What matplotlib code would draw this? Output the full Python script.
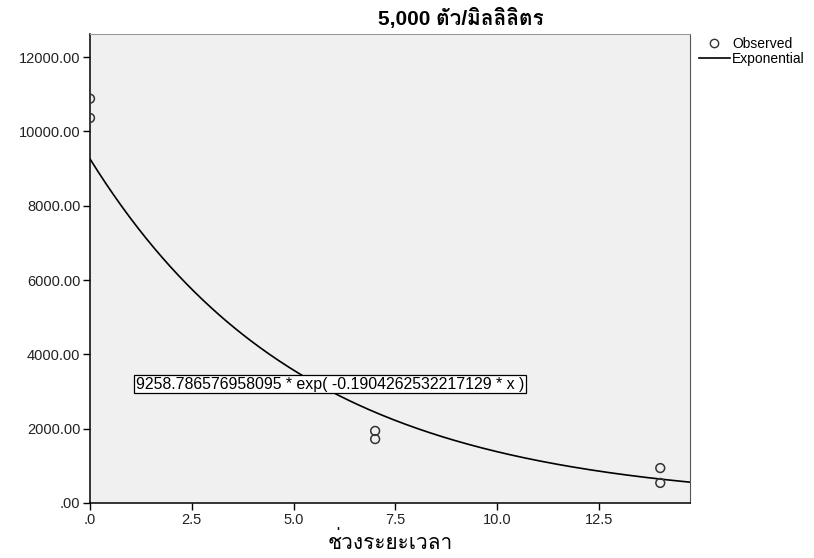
import numpy as np
import matplotlib
matplotlib.use("Agg")
import matplotlib.pyplot as plt
from matplotlib import font_manager
from matplotlib.lines import Line2D
from matplotlib.ft2font import FT2Font

# observed points (time, count)
obs_x = [0, 0, 7, 7, 14, 14]
obs_y = [10880, 10360, 1940, 1720, 940, 540]

# fitted exponential
coef_a = 9258.786576958095
coef_b = -0.1904262532217129

title = "5,000 ตัว/มิลลิลิตร"
xlabel = "ช่วงระยะเวลา"
xticks = [0, 2.5, 5.0, 7.5, 10.0, 12.5]
xtick_labels = [".0", "2.5", "5.0", "7.5", "10.0", "12.5"]
yticks = [0, 2000, 4000, 6000, 8000, 10000, 12000]
ytick_labels = [".00", "2000.00", "4000.00", "6000.00", "8000.00", "10000.00", "12000.00"]


def thai_family():
    for f in font_manager.fontManager.ttflist:
        try:
            if 0x0E15 in FT2Font(f.fname).get_charmap():
                return f.name
        except Exception:
            pass
    return None


thai = thai_family()
fams = ["Liberation Sans", "DejaVu Sans"]
if thai:
    fams = ["Liberation Sans", thai, "DejaVu Sans"]
plt.rcParams["font.family"] = fams

fig = plt.figure(figsize=(8.14, 5.58), dpi=100)
ax = fig.add_axes([90 / 814, 1 - 503 / 558, 600 / 814, 469 / 558])
ax.set_facecolor("#f0f0f0")

xs = np.linspace(0, 14.75, 300)
ax.plot(xs, coef_a * np.exp(coef_b * xs), color="black", lw=1.2)
ax.scatter(obs_x, obs_y, s=40, facecolors="none", edgecolors="#333333", lw=1.1, zorder=3)

ax.set_xlim(0, 14.73)
ax.set_ylim(0, 12620)
ax.set_xticks(xticks)
ax.set_xticklabels(xtick_labels)
ax.set_yticks(yticks)
ax.set_yticklabels(ytick_labels)
ax.tick_params(direction="out", length=5, width=1, labelsize=10.5, colors="black",
               labelcolor="#222222", pad=2)

for s in ["left", "bottom"]:
    ax.spines[s].set_color("black")
    ax.spines[s].set_linewidth(1.1)
ax.spines["top"].set_color("#999999")
ax.spines["right"].set_color("#555555")

ax.text(1.13, 3200, "%s * exp( %s * x )" % (repr(coef_a), repr(coef_b)),
        fontsize=11.4, va="center", ha="left",
        bbox=dict(boxstyle="square,pad=0.1", fc="white", ec="black", lw=0.9))

ax.set_xlabel(xlabel, fontsize=15, labelpad=3)
fig.text(461 / 814, 1 - 18 / 558, title, fontsize=15, fontweight="bold",
         ha="center", va="center")

handles = [Line2D([], [], marker="o", ls="none", mfc="none", mec="#333333", ms=6),
           Line2D([], [], color="black", lw=1.2)]
fig.legend(handles, ["Observed", "Exponential"], loc="upper left",
           bbox_to_anchor=(692 / 814, 1 - 30 / 558), frameon=False, fontsize=10,
           handlelength=2.2, handletextpad=0.2, labelspacing=0.1, borderpad=0)

fig.savefig("out.png", dpi=100)
